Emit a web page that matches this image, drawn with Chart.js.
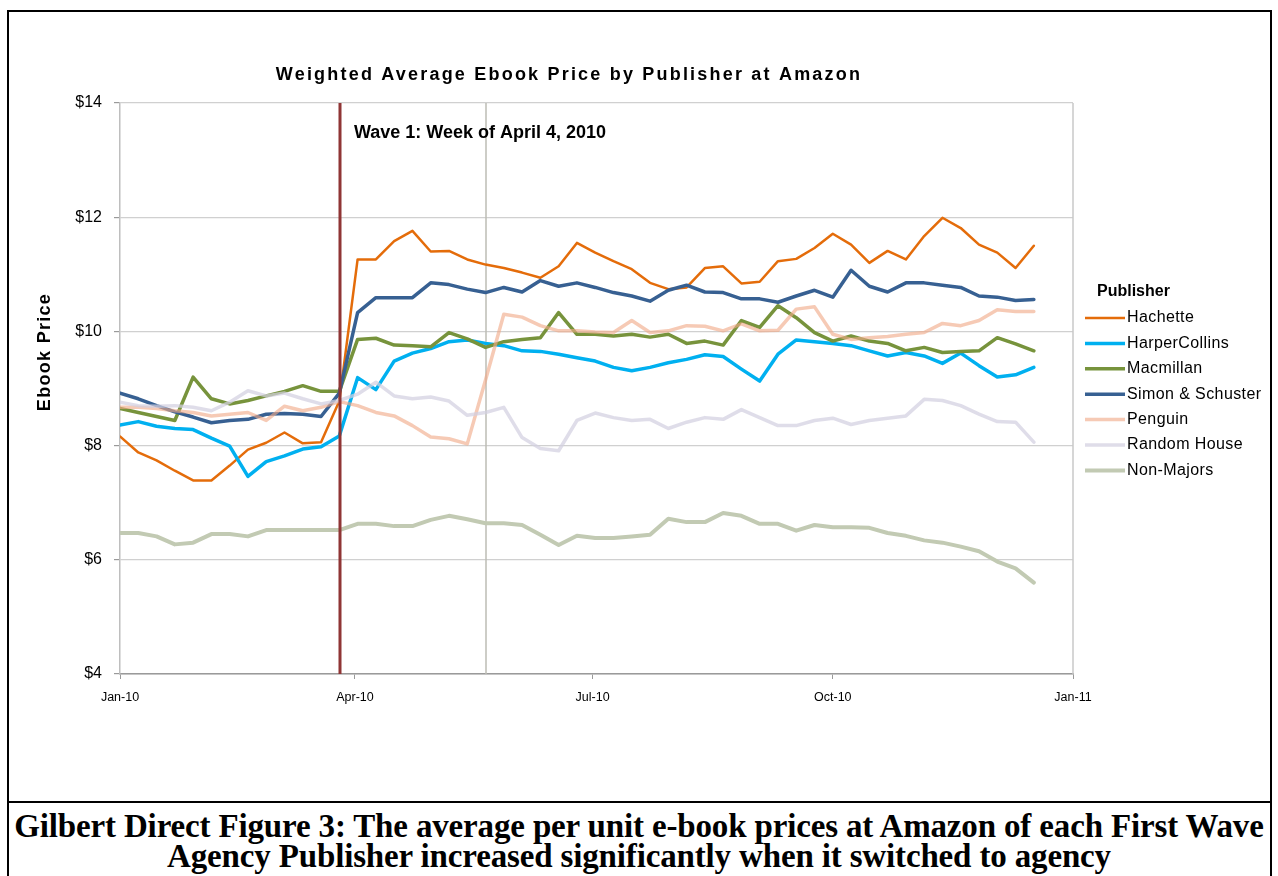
<!DOCTYPE html>
<html>
<head>
<meta charset="utf-8">
<script src="https://cdn.jsdelivr.net/npm/chart.js@4.4.0/dist/chart.umd.min.js"></script>
<style>
  body { margin: 0; background: #fff; }
  #page { position: relative; width: 1278px; height: 876px; overflow: hidden; background: #fff; }
  #chart { position: absolute; left: 0; top: 0; }
  .frame { position: absolute; background: #000; }
  #caption {
    position: absolute; left: 0; width: 1278px; top: 811px;
    text-align: center; color: #000; white-space: nowrap;
    font: bold 33px "Liberation Serif", "Times New Roman", serif; line-height: 30px;
    letter-spacing: -0.15px;
  }
</style>
</head>
<body>
<div id="page">
  <canvas id="chart" width="1278" height="800"></canvas>
  <div id="caption">Gilbert Direct Figure 3: The average per unit e-book prices at Amazon of each First Wave<br>Agency Publisher increased significantly when it switched to agency</div>
  <div class="frame" style="left:7px;top:10px;width:2px;height:866px"></div>
  <div class="frame" style="left:7px;top:10px;width:1265px;height:2px"></div>
  <div class="frame" style="left:1270px;top:10px;width:2px;height:866px"></div>
  <div class="frame" style="left:7px;top:801px;width:1265px;height:2px"></div>
</div>
<script>
// weekly averages, first week of Jan 2010 through mid Dec 2010
const publishers = ['Hachette', 'HarperCollins', 'Macmillan', 'Simon & Schuster', 'Penguin', 'Random House', 'Non-Majors'];

const hachette = [8.16, 7.88, 7.74, 7.56, 7.39, 7.39, 7.65, 7.93, 8.05, 8.23, 8.04, 8.06, 8.78, 11.26, 11.26, 11.58, 11.76, 11.40,
  11.41, 11.26, 11.17, 11.11, 11.03, 10.94, 11.14, 11.55, 11.38, 11.23, 11.09, 10.85, 10.74, 10.77, 11.11, 11.14,
  10.84, 10.87, 11.23, 11.27, 11.46, 11.71, 11.52, 11.20, 11.41, 11.26, 11.67, 11.99, 11.81, 11.52, 11.38, 11.11, 11.50];
const harperCollins = [8.36, 8.42, 8.34, 8.30, 8.28, 8.13, 7.99, 7.46, 7.72, 7.82, 7.94, 7.98, 8.17, 9.19, 8.98, 9.48, 9.62, 9.70,
  9.82, 9.85, 9.79, 9.75, 9.66, 9.65, 9.60, 9.54, 9.48, 9.37, 9.31, 9.37, 9.45, 9.51, 9.59, 9.56,
  9.34, 9.13, 9.60, 9.85, 9.82, 9.79, 9.75, 9.66, 9.57, 9.63, 9.57, 9.44, 9.62, 9.40, 9.20, 9.24, 9.37];
const macmillan = [8.65, 8.58, 8.51, 8.44, 9.20, 8.82, 8.73, 8.79, 8.87, 8.95, 9.05, 8.95, 8.95, 9.86, 9.88, 9.76, 9.75, 9.73,
  9.98, 9.87, 9.72, 9.82, 9.86, 9.89, 10.33, 9.95, 9.95, 9.92, 9.95, 9.90, 9.95, 9.79, 9.83, 9.76,
  10.19, 10.07, 10.45, 10.24, 9.98, 9.83, 9.92, 9.83, 9.79, 9.66, 9.72, 9.63, 9.65, 9.66, 9.89, 9.78, 9.66];
const simonSchuster = [8.92, 8.82, 8.70, 8.59, 8.50, 8.40, 8.44, 8.46, 8.55, 8.56, 8.55, 8.51, 8.92, 10.33, 10.59, 10.59, 10.59, 10.85,
  10.82, 10.74, 10.68, 10.77, 10.69, 10.89, 10.79, 10.85, 10.77, 10.68, 10.62, 10.53, 10.72, 10.81, 10.69, 10.68,
  10.57, 10.57, 10.51, 10.62, 10.72, 10.60, 11.07, 10.79, 10.69, 10.85, 10.85, 10.81, 10.77, 10.62, 10.60, 10.54, 10.56];
const penguin = [8.67, 8.67, 8.65, 8.61, 8.58, 8.52, 8.55, 8.58, 8.44, 8.69, 8.61, 8.67, 8.77, 8.70, 8.58, 8.52, 8.35, 8.15,
  8.12, 8.03, 9.15, 10.30, 10.25, 10.10, 10.01, 10.01, 9.99, 9.98, 10.19, 9.98, 10.01, 10.10, 10.09, 10.01,
  10.13, 10.01, 10.02, 10.39, 10.43, 9.95, 9.86, 9.89, 9.91, 9.95, 9.98, 10.14, 10.10, 10.19, 10.38, 10.35, 10.35];
const randomHouse = [8.76, 8.70, 8.69, 8.70, 8.67, 8.61, 8.76, 8.96, 8.87, 8.92, 8.82, 8.73, 8.79, 8.90, 9.11, 8.87, 8.82, 8.85,
  8.78, 8.53, 8.58, 8.67, 8.14, 7.95, 7.91, 8.44, 8.57, 8.49, 8.44, 8.46, 8.30, 8.41, 8.49, 8.46,
  8.63, 8.49, 8.35, 8.35, 8.44, 8.48, 8.37, 8.44, 8.48, 8.52, 8.81, 8.79, 8.70, 8.55, 8.42, 8.41, 8.06];
const nonMajors = [6.47, 6.47, 6.41, 6.27, 6.30, 6.45, 6.45, 6.41, 6.52, 6.52, 6.52, 6.52, 6.52, 6.63, 6.63, 6.59, 6.59, 6.70,
  6.77, 6.71, 6.64, 6.64, 6.61, 6.44, 6.26, 6.42, 6.38, 6.38, 6.41, 6.44, 6.72, 6.66, 6.66, 6.82,
  6.77, 6.63, 6.63, 6.51, 6.61, 6.57, 6.57, 6.56, 6.47, 6.42, 6.34, 6.30, 6.23, 6.15, 5.97, 5.85, 5.60];

const series = [hachette, harperCollins, macmillan, simonSchuster, penguin, randomHouse, nonMajors];
const monthDays = [0, 90, 181, 273, 365];
const monthLabels = ['Jan-10', 'Apr-10', 'Jul-10', 'Oct-10', 'Jan-11'];
const priceTicks = [4, 6, 8, 10, 12, 14];
const waveWeeks = [12, 20]; // wave 1 marker, then the later switch
const waveLabel = 'Wave 1: Week of April 4, 2010';

// styles
const colors = ['#E46C0A', '#00B0F0', '#77933C', '#376092', 'rgba(240,170,135,0.62)', 'rgba(210,208,225,0.72)', '#C2CAB3'];
const widths = [2.5, 3.5, 3.5, 3.5, 3.5, 3.5, 4];
const sans = '"Liberation Sans", Arial, sans-serif';

const weekDay = i => i * 7;

const decor = {
  id: 'decor',
  beforeDatasetsDraw(chart) {
    const { ctx, chartArea: a, scales: { x } } = chart;
    ctx.save();
    ctx.strokeStyle = '#C8C8C8';
    ctx.lineWidth = 1.5;
    ctx.beginPath();
    ctx.moveTo(a.right, a.top);
    ctx.lineTo(a.right, a.bottom);
    ctx.stroke();
    const gx = Math.round(x.getPixelForValue(weekDay(waveWeeks[1])));
    ctx.strokeStyle = '#BDBDB5';
    ctx.beginPath();
    ctx.moveTo(gx, a.top);
    ctx.lineTo(gx, a.bottom);
    ctx.stroke();
    ctx.restore();
  },
  afterDatasetsDraw(chart) {
    const { ctx, chartArea: a, scales: { x } } = chart;
    const rx = Math.round(x.getPixelForValue(weekDay(waveWeeks[0]))) + 1;
    ctx.save();
    ctx.strokeStyle = '#8F3535';
    ctx.lineWidth = 3;
    ctx.beginPath();
    ctx.moveTo(rx, a.top);
    ctx.lineTo(rx, a.bottom);
    ctx.stroke();
    ctx.fillStyle = '#000';
    ctx.font = 'bold 18px ' + sans;
    ctx.textBaseline = 'middle';
    ctx.fillText(waveLabel, rx + 14, 133);
    ctx.restore();
  },
  afterDraw(chart) {
    const { ctx } = chart;
    ctx.save();
    ctx.fillStyle = '#000';
    ctx.textBaseline = 'middle';

    // title
    ctx.font = 'bold 18px ' + sans;
    ctx.letterSpacing = '2.2px';
    ctx.textAlign = 'center';
    ctx.fillText('Weighted Average Ebook Price by Publisher at Amazon', 569, 75);
    ctx.letterSpacing = '0px';

    // y axis title
    ctx.save();
    ctx.translate(45, 352);
    ctx.rotate(-Math.PI / 2);
    ctx.font = 'bold 18px ' + sans;
    ctx.letterSpacing = '1.3px';
    ctx.fillText('Ebook Price', 0, 0);
    ctx.restore();

    // legend
    ctx.textAlign = 'left';
    ctx.font = 'bold 16px ' + sans;
    ctx.fillText('Publisher', 1097, 292);
    ctx.font = '16px ' + sans;
    ctx.letterSpacing = '0.4px';
    chart.data.datasets.forEach((ds, i) => {
      const y = 318 + i * 25.4;
      ctx.strokeStyle = ds.borderColor;
      ctx.lineWidth = ds.borderWidth;
      ctx.beginPath();
      ctx.moveTo(1085, y);
      ctx.lineTo(1125, y);
      ctx.stroke();
      ctx.fillText(ds.label, 1127, y);
    });
    ctx.restore();
  }
};

new Chart(document.getElementById('chart'), {
  type: 'line',
  data: {
    datasets: publishers.map((name, i) => ({
      label: name,
      data: series[i].map((v, k) => ({ x: weekDay(k), y: v })),
      borderColor: colors[i],
      borderWidth: widths[i],
      pointRadius: 0,
      tension: 0,
      fill: false,
      borderJoinStyle: 'round',
      borderCapStyle: 'round',
      order: publishers.length - i
    }))
  },
  options: {
    responsive: false,
    animation: false,
    devicePixelRatio: 1,
    layout: { padding: { top: 103, left: 0, right: 205, bottom: 86 } },
    scales: {
      x: {
        type: 'linear',
        min: monthDays[0],
        max: monthDays[monthDays.length - 1],
        afterBuildTicks: s => { s.ticks = monthDays.map(v => ({ value: v })); },
        afterFit: s => { s.height = 40; },
        ticks: {
          autoSkip: false,
          maxRotation: 0,
          padding: 11,
          color: '#000',
          font: { family: sans, size: 12.5 },
          callback: (v, i) => monthLabels[i]
        },
        grid: { drawOnChartArea: false, drawTicks: true, tickLength: 5, tickColor: '#9A9A9A' },
        border: { color: '#9A9A9A', width: 1.5 }
      },
      y: {
        min: priceTicks[0],
        max: priceTicks[priceTicks.length - 1],
        afterBuildTicks: s => { s.ticks = priceTicks.map(v => ({ value: v })); },
        afterFit: s => { s.width = 120; },
        ticks: {
          padding: 12,
          color: '#000',
          font: { family: sans, size: 16 },
          callback: v => '$' + v
        },
        grid: { color: '#D0D0D0', lineWidth: 1.2, tickLength: 6, tickColor: '#9A9A9A' },
        border: { color: '#BEBEBE', width: 1.5 }
      }
    },
    plugins: {
      legend: { display: false },
      tooltip: { enabled: false },
      title: { display: false }
    }
  },
  plugins: [decor]
});
</script>
</body>
</html>
